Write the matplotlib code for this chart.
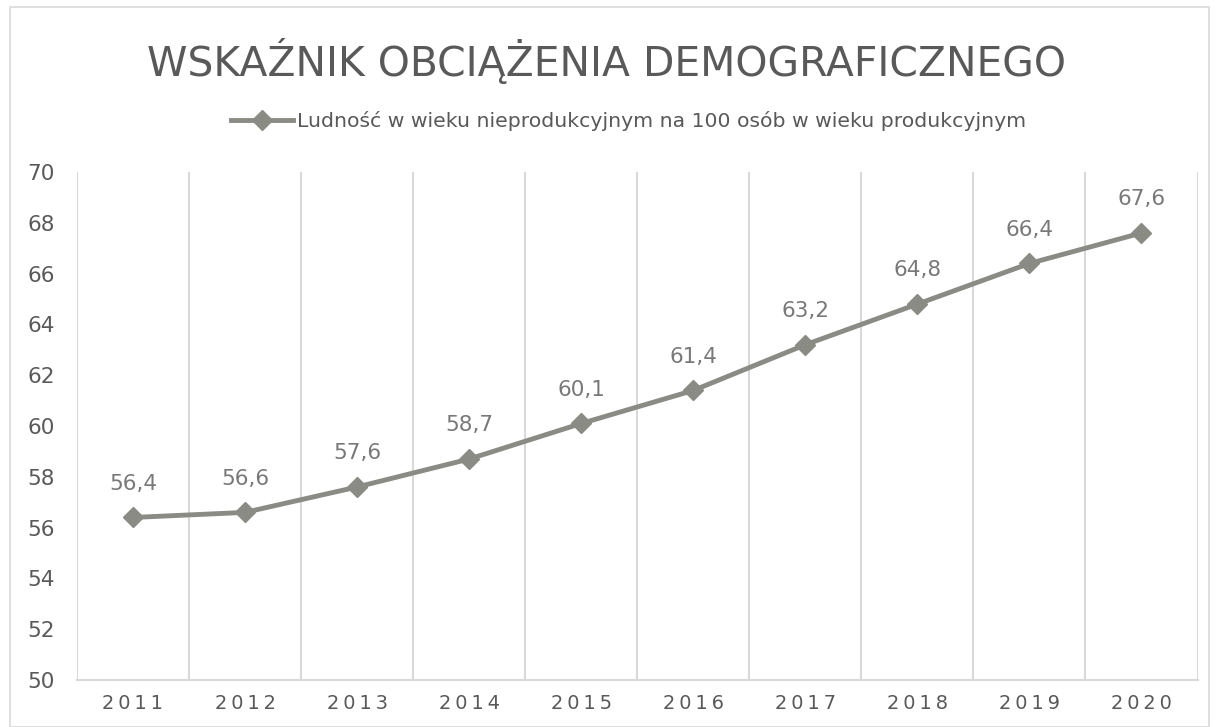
import matplotlib.pyplot as plt
import numpy as np

years = [2011, 2012, 2013, 2014, 2015, 2016, 2017, 2018, 2019, 2020]
values = [56.4, 56.6, 57.6, 58.7, 60.1, 61.4, 63.2, 64.8, 66.4, 67.6]
series_name = "Ludność w wieku nieprodukcyjnym na 100 osób w wieku produkcyjnym"
title = "WSKAŹNIK OBCIĄŻENIA DEMOGRAFICZNEGO"

line_col = "#8a8b84"
text_col = "#595959"

fig = plt.figure(figsize=(12.16, 7.27), dpi=100)
ax = fig.add_axes([0.0633, 0.0646, 0.9215, 0.6988])

x = np.arange(len(years))
line, = ax.plot(x, values, color=line_col, lw=3.5, marker="D", ms=10,
                markeredgecolor=line_col, markerfacecolor=line_col)

for xi, v in zip(x, values):
    ax.annotate(("%.1f" % v).replace(".", ","), (xi, v), xytext=(0, 17),
                textcoords="offset points", ha="center", va="bottom",
                fontsize=15.5, color="#787878")

ax.set_xlim(-0.5, len(years) - 0.5)
ax.set_ylim(50, 70)
ax.set_yticks(np.arange(50, 71, 2))
ax.set_xticks(x)
ax.set_xticklabels(["\u2009".join(str(y)) for y in years])
ax.tick_params(axis="both", length=0, labelsize=14, colors=text_col)
ax.tick_params(axis="y", pad=16, labelsize=15.5)
ax.tick_params(axis="x", pad=10)

for b in np.arange(-0.5, len(years), 1.0):
    ax.axvline(b, color="#d9d9d9", lw=1.5, zorder=0)

for s in ["top", "right", "left"]:
    ax.spines[s].set_visible(False)
ax.spines["bottom"].set_color("#d9d9d9")
ax.spines["bottom"].set_linewidth(1.5)

fig.text(0.499, 0.915, title, ha="center", va="center", fontsize=29.4,
         color=text_col, fontfamily="DejaVu Sans")

leg = fig.legend([line], [series_name], loc="center", bbox_to_anchor=(0.517, 0.833),
                 frameon=False, fontsize=14.7, handlelength=3.0, handletextpad=0.2,
                 labelcolor=text_col)

fig.patches.append(plt.Rectangle((0.008, 0.0), 0.986, 0.99, transform=fig.transFigure,
                                 fill=False, edgecolor="#d9d9d9", lw=1.2))

fig.savefig("out.png", dpi=100)
